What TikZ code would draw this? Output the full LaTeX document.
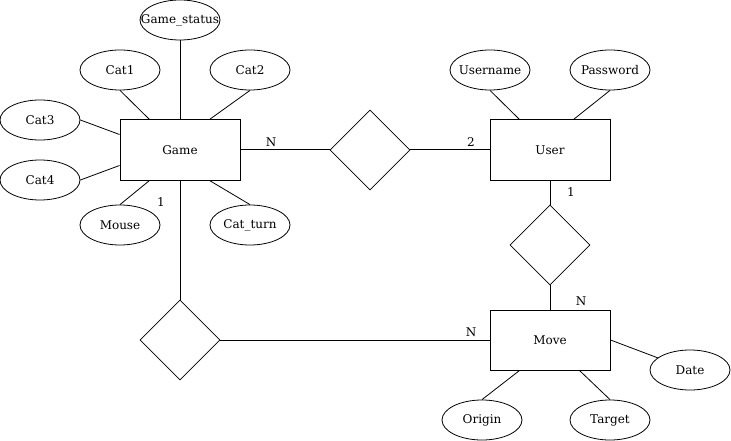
\documentclass[tikz,border=0pt]{standalone}
\usepackage{fontspec}
\setmainfont{DejaVu Serif}
\usetikzlibrary{shapes.geometric}
\begin{document}
\begin{tikzpicture}[x=1pt,y=-1pt,
  every node/.style={font=\fontsize{12}{14}\selectfont},
  entity/.style={draw,line width=1pt,rectangle,minimum width=120pt,minimum height=60pt,inner sep=0pt},
  attr/.style={draw,line width=0.8pt,ellipse,minimum width=80pt,minimum height=40pt,inner xsep=-25pt,inner ysep=-5pt},
  rel/.style={draw,line width=0.8pt,diamond,minimum width=80pt,minimum height=80pt,inner sep=0pt},
  conn/.style={line width=1pt},
  attrline/.style={line width=0.8pt},
  card/.style={inner sep=0pt}]
\useasboundingbox (0,0) rectangle (731,441);
% entities
\node[entity] (game) at (180,150) {Game};
\node[entity] (user) at (550,150) {User};
\node[entity] (move) at (550,340) {Move};
% relationships
\node[rel] (r1) at (370,150) {};
\node[rel] (r2) at (550,245) {};
\node[rel] (r3) at (180,340) {};
% attributes
\node[attr] (gs) at (180,20) {Game\_status};
\node[attr] (cat1) at (120,70) {Cat1};
\node[attr] (cat2) at (250,70) {Cat2};
\node[attr] (cat3) at (40,120) {Cat3};
\node[attr] (cat4) at (40,180) {Cat4};
\node[attr] (mouse) at (120,225) {Mouse};
\node[attr] (catturn) at (250,225) {Cat\_turn};
\node[attr] (username) at (490,70) {Username};
\node[attr] (password) at (610,70) {Password};
\node[attr] (origin) at (482,420) {Origin};
\node[attr] (target) at (610,420) {Target};
\node[attr] (date) at (690,370) {Date};
% attribute lines
\draw[attrline] (gs.south) -- (game.north);
\draw[attrline] (cat1.south) -- ([xshift=30pt]game.north west);
\draw[attrline] (cat2.south) -- ([xshift=90pt]game.north west);
\draw[attrline] (cat3.east) -- ([yshift=-15pt]game.north west);
\draw[attrline] (cat4.east) -- ([yshift=15pt]game.south west);
\draw[attrline] (mouse.north) -- ([xshift=30pt]game.south west);
\draw[attrline] (catturn.north) -- ([xshift=90pt]game.south west);
\draw[attrline] (username.south) -- ([xshift=30pt]user.north west);
\draw[attrline] (password.south) -- ([xshift=84pt]user.north west);
\draw[attrline] (origin.north) -- ([xshift=30pt]move.south west);
\draw[attrline] (target.north) -- ([xshift=90pt]move.south west);
\draw[attrline] (move.east) -- (date);
% relationship lines
\draw[conn] (game.east) -- (r1.west);
\draw[conn] (r1.east) -- (user.west);
\draw[conn] (user.south) -- (r2.north);
\draw[conn] (r2.south) -- (move.north);
\draw[conn] (game.south) -- (r3.north);
\draw[conn] (r3.east) -- (move.west);
% cardinalities
\node[card] (c1) at (271,142) {N};
\node[card] (c2) at (471,142) {2};
\node[card] (c3) at (571,192) {1};
\node[card] (c4) at (581,301) {N};
\node[card] (c5) at (471,332) {N};
\node[card] (c6) at (161,202) {1};
\end{tikzpicture}
\end{document}
